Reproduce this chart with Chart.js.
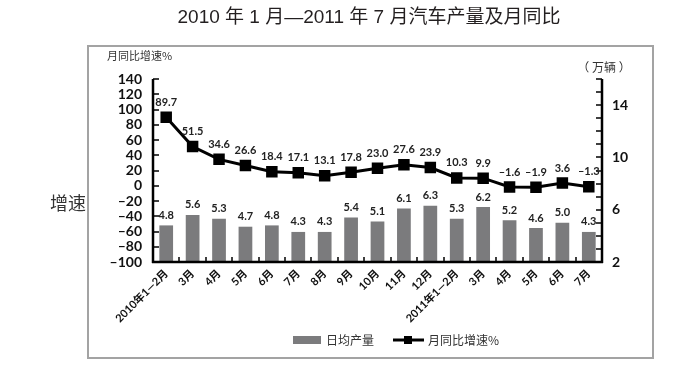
<!DOCTYPE html>
<html><head><meta charset="utf-8">
<script src="https://cdn.jsdelivr.net/npm/chart.js@4.4.1/dist/chart.umd.min.js"></script>
<style>html,body{margin:0;padding:0;background:#fff;}#wrap{width:700px;height:370px;position:relative;}</style>
</head><body><div id="wrap"><canvas id="c" width="700" height="370"></canvas></div>
<script>
const categories = ['2010年1—2月','3月','4月','5月','6月','7月','8月','9月','10月','11月','12月','2011年1—2月','3月','4月','5月','6月','7月'];
const dailyOutput = [4.8,5.6,5.3,4.7,4.8,4.3,4.3,5.4,5.1,6.1,6.3,5.3,6.2,5.2,4.6,5.0,4.3];
const yoyGrowth = [89.7,51.5,34.6,26.6,18.4,17.1,13.1,17.8,23.0,27.6,23.9,10.3,9.9,-1.6,-1.9,3.6,-1.3];
const leftAxisLabels = [-100,-80,-60,-40,-20,0,20,40,60,80,100,120,140];
const rightAxisLabels = [2,6,10,14];
const rightAxisRange = [2,16];
const seriesNames = ['日均产量','月同比增速%'];
const titleText = '2010 年 1 月—2011 年 7 月汽车产量及月同比';
const leftAxisTitle = '月同比增速%';
const rightAxisTitle = '（ 万辆 ）';
const sideLabel = '增速';

const NUMF = "Lato, 'Noto Sans CJK SC', sans-serif";
const CJKF = "'Noto Sans CJK SC', sans-serif";
const dash = s => String(s).replace('-', '\u2013');

const deco = {
  id: 'deco',
  afterDatasetsDraw(chart) {
    const ctx = chart.ctx, a = chart.chartArea;
    const x = chart.scales.x, yL = chart.scales.yL, yR = chart.scales.yR;
    ctx.save();
    // frame
    ctx.strokeStyle = '#a3a3a3'; ctx.lineWidth = 2;
    ctx.strokeRect(88, 46, 565, 312);
    // title
    ctx.fillStyle = '#231f20'; ctx.textAlign = 'center'; ctx.textBaseline = 'middle';
    ctx.font = "19px 'Liberation Sans', 'Noto Sans CJK SC', sans-serif";
    ctx.fillText(titleText, 369, 18);
    ctx.fillStyle = '#333';
    ctx.font = '11px ' + CJKF; ctx.textAlign = 'left';
    ctx.fillText(leftAxisTitle, 107, 56);
    ctx.textAlign = 'center';
    ctx.font = '12px ' + CJKF;
    ctx.fillText(rightAxisTitle, 604, 67);
    ctx.font = '18px ' + CJKF;
    ctx.fillText(sideLabel, 68, 203);
    // axes
    ctx.strokeStyle = '#000'; ctx.lineWidth = 2.5;
    ctx.beginPath();
    ctx.moveTo(a.left, a.top); ctx.lineTo(a.left, a.bottom + 1);
    ctx.moveTo(a.right, a.top); ctx.lineTo(a.right, a.bottom + 1);
    ctx.moveTo(a.left - 1, a.bottom); ctx.lineTo(a.right + 1, a.bottom);
    ctx.stroke();
    ctx.lineWidth = 1.5;
    ctx.beginPath();
    leftAxisLabels.forEach(v => { const p = Math.round(yL.getPixelForValue(v)); ctx.moveTo(a.left, p); ctx.lineTo(a.left + 6, p); });
    for (let v = rightAxisRange[0]; v <= rightAxisRange[1]; v++) { const p = Math.round(yR.getPixelForValue(v)); ctx.moveTo(a.right, p); ctx.lineTo(a.right - 6, p); }
    for (let i = 1; i < categories.length; i++) {
      const p = Math.round((x.getPixelForValue(i - 1) + x.getPixelForValue(i)) / 2);
      ctx.moveTo(p, a.bottom); ctx.lineTo(p, a.bottom - 5);
    }
    ctx.stroke();
    // data labels
    ctx.fillStyle = '#222'; ctx.font = 'bold 11px ' + NUMF; ctx.textAlign = 'center'; ctx.textBaseline = 'middle';
    chart.getDatasetMeta(1).data.forEach((el, i) => {
      ctx.fillText(dailyOutput[i].toFixed(1), el.x, el.y - 10);
    });
    chart.getDatasetMeta(0).data.forEach((el, i) => {
      ctx.fillText(dash(yoyGrowth[i].toFixed(1)), el.x, el.y - 15);
    });
    // legend
    ctx.fillStyle = '#7b7b7d'; ctx.fillRect(293, 336, 28, 8);
    ctx.fillStyle = '#333'; ctx.font = '12px ' + CJKF; ctx.textAlign = 'left';
    ctx.fillText(seriesNames[0], 326, 340);
    ctx.strokeStyle = '#000'; ctx.lineWidth = 3;
    ctx.beginPath(); ctx.moveTo(393, 340); ctx.lineTo(424, 340); ctx.stroke();
    ctx.fillStyle = '#000'; ctx.fillRect(404, 336, 8, 8);
    ctx.fillStyle = '#333';
    ctx.fillText(seriesNames[1], 428, 340);
    ctx.restore();
  }
};

new Chart(document.getElementById('c'), {
  data: {
    labels: categories,
    datasets: [
      { type: 'line', label: seriesNames[1], data: yoyGrowth, yAxisID: 'yL', order: 1,
        borderColor: '#000', borderWidth: 3, pointStyle: 'rect', pointRadius: 6,
        pointBackgroundColor: '#000', pointBorderColor: '#000', tension: 0 },
      { type: 'bar', label: seriesNames[0], data: dailyOutput, yAxisID: 'yR', order: 2,
        backgroundColor: '#7b7b7d', categoryPercentage: 1, barPercentage: 0.52 }
    ]
  },
  options: {
    responsive: false, animation: false, devicePixelRatio: 1,
    layout: { padding: { top: 79, left: 0, right: 0, bottom: 0 } },
    plugins: { legend: { display: false }, tooltip: { enabled: false }, title: { display: false } },
    scales: {
      x: { type: 'category', offset: true,
        grid: { display: false, drawTicks: false }, border: { display: false },
        ticks: { minRotation: 45, maxRotation: 45, autoSkip: false, padding: 5, color: '#111',
          font: { family: NUMF, size: 11, weight: 'bold' } },
        afterFit(s) { s.height = 108; } },
      yL: { position: 'left', min: -100, max: 140,
        grid: { display: false, drawTicks: false }, border: { display: false },
        afterBuildTicks(s) { s.ticks = leftAxisLabels.map(v => ({ value: v })); },
        ticks: { autoSkip: false, padding: 11, color: '#111', callback: v => dash(v),
          font: { family: NUMF, size: 14, weight: 'bold' } },
        afterFit(s) { s.width = 153; } },
      yR: { position: 'right', min: rightAxisRange[0], max: rightAxisRange[1],
        grid: { display: false, drawTicks: false }, border: { display: false },
        afterBuildTicks(s) { s.ticks = rightAxisLabels.map(v => ({ value: v })); },
        ticks: { autoSkip: false, padding: 10, color: '#111',
          font: { family: NUMF, size: 14, weight: 'bold' } },
        afterFit(s) { s.width = 98; } }
    }
  },
  plugins: [deco]
});
</script></body></html>
